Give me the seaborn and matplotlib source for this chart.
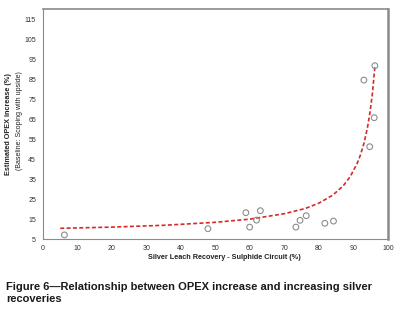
import pandas as pd
import matplotlib
matplotlib.use("Agg")
import matplotlib.pyplot as plt
import seaborn as sns

# Silver leach recovery (%) vs estimated OPEX increase (%)
recovery = [6.2, 47.8, 58.8, 59.9, 61.9, 63.0, 73.3, 74.5, 76.3, 81.7, 84.2, 93.0, 94.7, 96.0, 96.2]
opex_increase = [7.2, 10.3, 18.3, 11.1, 14.6, 19.3, 11.1, 14.5, 16.8, 13.0, 14.1, 84.6, 51.3, 65.8, 91.8]

# dashed trend line
trend_recovery = [5, 20, 35, 50, 60, 70, 76, 80, 84, 87, 89, 91, 92, 93, 94, 94.8, 95.5, 96.2]
trend_opex = [10.5, 11.1, 12.0, 13.5, 15.1, 17.8, 20.4, 23.1, 27.1, 31.7, 36.2, 42.7,
              47.1, 52.8, 60.4, 68.6, 78.2, 91.3]

x_ticks = list(range(0, 101, 10))
y_ticks = list(range(5, 116, 10))

caption = ("Figure 6\u2014Relationship between OPEX increase and increasing silver\n"
           "recoveries")

df = pd.DataFrame({"recovery": recovery, "opex": opex_increase})
trend = pd.DataFrame({"recovery": trend_recovery, "opex": trend_opex})

sns.set_style("white")
plt.rcParams["font.family"] = ["Liberation Sans", "DejaVu Sans"]

fig = plt.figure(figsize=(4.03, 3.27), dpi=100)
ax = fig.add_axes([43 / 403, 1 - 239.3 / 327, (388 - 43) / 403, (239.3 - 9.3) / 327])

sns.lineplot(data=trend, x="recovery", y="opex", ax=ax, color="#d42a2a",
             linewidth=1.2, sort=False, linestyle=(0, (2.4, 1.4)))
sns.scatterplot(data=df, x="recovery", y="opex", ax=ax, s=17, marker="o",
                facecolor="none", edgecolor="#8c8c8c", linewidth=0.8, zorder=3)

ax.set_xlim(0, 100)
ax.set_ylim(5, 120)
ax.set_xticks(x_ticks)
ax.set_yticks(y_ticks)
ax.tick_params(axis="both", length=0, labelsize=5, labelcolor="#333333")
ax.tick_params(axis="y", pad=5)
ax.tick_params(axis="x", pad=4)

for side, lw in {"left": 0.8, "bottom": 0.8, "top": 1.2, "right": 1.8}.items():
    ax.spines[side].set_visible(True)
    ax.spines[side].set_color("#8a8a8a")
    ax.spines[side].set_linewidth(lw)

ax.set_xlabel("")
ax.set_ylabel("")
fig.text(224 / 403, 1 - 257.7 / 327, "Silver Leach Recovery - Sulphide Circuit (%)",
         ha="center", va="center", fontsize=5.2, fontweight="bold", color="#222222")
fig.text(9 / 403, 1 - 124 / 327, "Estimated OPEX increase (%)", rotation=90,
         ha="center", va="center", fontsize=5.2, fontweight="bold", color="#222222")
fig.text(20 / 403, 1 - 121 / 327, "(Baseline: Scoping with upside)", rotation=90,
         ha="center", va="center", fontsize=5, color="#222222")

fig.text(6 / 403, 1 - 281.5 / 327, caption, ha="left", va="top", fontsize=8,
         fontweight="bold", color="#1a1a1a", linespacing=1.3)

fig.savefig("out.png", dpi=100)
